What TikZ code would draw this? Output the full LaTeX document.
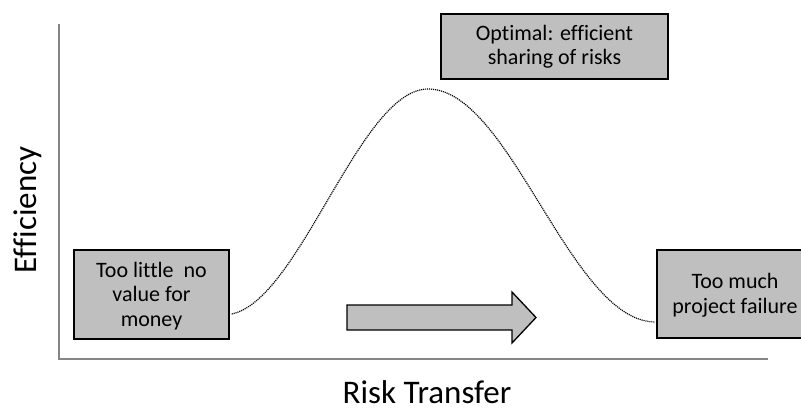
\documentclass[tikz,border=0pt]{standalone}
\usepackage{fontspec}
\setmainfont[Ligatures=NoCommon]{Carlito}
\usetikzlibrary{calc}
\definecolor{boxgray}{HTML}{BFBFBF}
\definecolor{axisgray}{HTML}{858585}
\begin{document}
\begin{tikzpicture}[x=1pt,y=-1pt,
  labelbox/.style={draw=black,line width=1.3pt,fill=boxgray,inner sep=0pt,
    align=center,font=\fontsize{22}{24.5}\selectfont},
  axis/.style={draw=axisgray,line width=1.5pt},
  axislabel/.style={font=\fontsize{33}{36}\selectfont,inner sep=0pt},
  curve/.style={line width=1.2pt,dash pattern=on 1.1pt off 0.9pt}]
\useasboundingbox (0,0) rectangle (801,410);

% axes
\coordinate (origin) at (59,359);
\coordinate (ytop) at (59,24);
\coordinate (xend) at (768,359);
\draw[axis] (ytop) -- (origin) -- (xend);

% axis labels
\node[axislabel,rotate=90] (ylab) at (28,210) {Efficiency};
\node[axislabel,anchor=base] (xlab) at (427,403) {Risk Transfer};

% boxes
\node[labelbox,minimum width=155,minimum height=89] (lbox) at (151.5,294.5)
  {\rule{0pt}{18pt}Too little\ \ no\\value for\\money};
\node[labelbox,minimum width=227,minimum height=65] (tbox) at (554.5,46.5)
  {Optimal: efficient\\sharing of risks};
\node[labelbox,minimum width=156,minimum height=88] (rbox) at (735,294)
  {\rule{0pt}{18pt}Too much\\project failure};

% efficiency curve
\coordinate (c0) at ($(lbox.east)+(2,19.5)$);
\coordinate (peak) at (428,89);
\coordinate (c1) at ($(rbox.west)+(-2,28)$);
\draw[curve] (c0) .. controls (300,300) and (360,89) .. (peak)
  .. controls (510,89) and (570,320) .. (c1);

% direction arrow
\draw[line width=1.3pt,fill=boxgray,line join=miter]
  (347,305) -- (512,305) -- (512,292) -- (536,317.5) -- (512,343)
  -- (512,330) -- (347,330) -- cycle;
\end{tikzpicture}
\end{document}
